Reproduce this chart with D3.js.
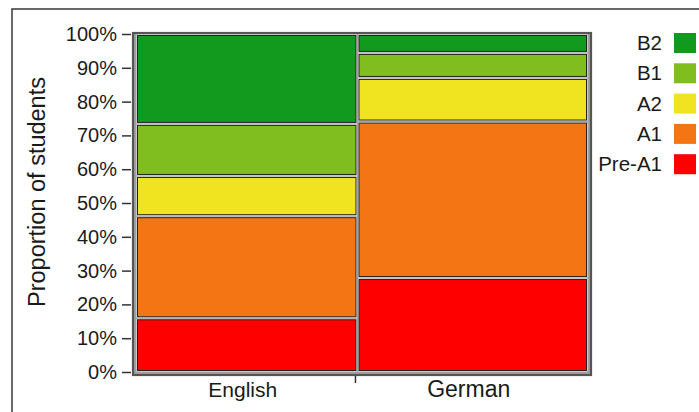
<!DOCTYPE html>
<html>
<head>
<meta charset="utf-8">
<script src="https://cdn.jsdelivr.net/npm/d3@7"></script>
<style>
  body { margin: 0; background: #fff; }
  svg text { font-family: "Liberation Sans", Arial, sans-serif; fill: #1a1a1a; }
</style>
</head>
<body>
<div id="main"></div>
<script>
// data
const languages = ["English", "German"];
const languageShare = [0.49, 0.51];            // column widths of the mosaic
const levels = ["Pre-A1", "A1", "A2", "B1", "B2"];
const englishProps = [0.159, 0.302, 0.119, 0.154, 0.266];
const germanProps = [0.278, 0.463, 0.129, 0.074, 0.056];
const levelColors = ["#fe0000", "#f47514", "#efe41f", "#80be1f", "#129a1f"];
const yTicks = [0, 0.1, 0.2, 0.3, 0.4, 0.5, 0.6, 0.7, 0.8, 0.9, 1];

const ctx = {
    WIDTH: 699,
    HEIGHT: 412,
};

function createViz() {
    const svg = d3.select("#main").append("svg")
        .attr("width", ctx.WIDTH)
        .attr("height", ctx.HEIGHT);

    // outer frame (runs off the right and bottom edge)
    svg.append("rect")
        .attr("x", 12).attr("y", 9)
        .attr("width", 720).attr("height", 440)
        .attr("fill", "none")
        .attr("stroke", "#444")
        .attr("stroke-width", 1.6);

    const y = d3.scaleLinear().domain([0, 1]).range([372, 34]);
    const x = d3.scaleLinear().domain([0, 1]).range([136, 588]);

    // panel
    svg.append("rect")
        .attr("x", 133).attr("y", 33)
        .attr("width", 458).attr("height", 342)
        .attr("fill", "#a0a0a0")
        .attr("stroke", "#555")
        .attr("stroke-width", 2.2);

    const props = [englishProps, germanProps];
    const tiles = [];
    let xStart = 0;
    languages.forEach((lang, i) => {
        let yStart = 0;
        levels.forEach((lev, j) => {
            tiles.push({
                lang: lang, level: lev, color: levelColors[j],
                x0: xStart, x1: xStart + languageShare[i],
                y0: yStart, y1: yStart + props[i][j]
            });
            yStart += props[i][j];
        });
        xStart += languageShare[i];
    });

    const gap = 1.5;
    const tileG = svg.append("g");
    // white halo around each tile
    tileG.selectAll("rect.halo")
        .data(tiles)
        .enter()
        .append("rect")
        .attr("class", "halo")
        .attr("x", d => x(d.x0) + gap - 1)
        .attr("y", d => y(d.y1) + gap - 1)
        .attr("width", d => x(d.x1) - x(d.x0) - 2 * gap + 2)
        .attr("height", d => y(d.y0) - y(d.y1) - 2 * gap + 2)
        .attr("fill", "#f2f2f2");
    tileG.selectAll("rect.tile")
        .data(tiles)
        .enter()
        .append("rect")
        .attr("class", "tile")
        .attr("x", d => x(d.x0) + gap)
        .attr("y", d => y(d.y1) + gap)
        .attr("width", d => x(d.x1) - x(d.x0) - 2 * gap)
        .attr("height", d => y(d.y0) - y(d.y1) - 2 * gap)
        .attr("fill", d => d.color)
        .attr("stroke", "#222")
        .attr("stroke-width", 1);

    // y axis
    const yAxis = svg.append("g")
        .attr("transform", "translate(131,0)")
        .call(d3.axisLeft(y).tickValues(yTicks).tickFormat(d3.format(".0%"))
            .tickSize(9).tickPadding(5));
    yAxis.select(".domain").remove();
    yAxis.selectAll(".tick line").attr("stroke", "#333").attr("stroke-width", 1.5);
    yAxis.selectAll(".tick text").style("font-size", "20px").attr("fill", "#1a1a1a");

    // x axis: single tick on the column boundary, labels centred in columns
    svg.append("line")
        .attr("x1", x(languageShare[0]) - 2).attr("x2", x(languageShare[0]) - 2)
        .attr("y1", 376).attr("y2", 383)
        .attr("stroke", "#333").attr("stroke-width", 1.5);
    const xLabelSizes = [21, 23];
    let acc = 0;
    languages.forEach((lang, i) => {
        const mid = acc + languageShare[i] / 2;
        acc += languageShare[i];
        svg.append("text")
            .attr("x", x(mid) - 4)
            .attr("y", 397)
            .attr("text-anchor", "middle")
            .style("font-size", xLabelSizes[i] + "px")
            .text(lang);
    });

    // y title
    svg.append("text")
        .attr("transform", "translate(45,192) rotate(-90)")
        .attr("text-anchor", "middle")
        .style("font-size", "23.5px")
        .text("Proportion of students");

    // legend, top to bottom B2 .. Pre-A1
    const legendData = levels.map((l, i) => ({ level: l, color: levelColors[i] })).reverse();
    const legend = svg.append("g");
    const items = legend.selectAll("g")
        .data(legendData)
        .enter()
        .append("g")
        .attr("transform", (d, i) => `translate(0,${33 + i * 30.3})`);
    items.append("rect")
        .attr("x", 674).attr("y", 0)
        .attr("width", 22).attr("height", 20)
        .attr("fill", d => d.color);
    items.append("text")
        .attr("x", 662).attr("y", 17)
        .attr("text-anchor", "end")
        .style("font-size", "20.5px")
        .text(d => d.level);
}

createViz();
</script>
</body>
</html>
